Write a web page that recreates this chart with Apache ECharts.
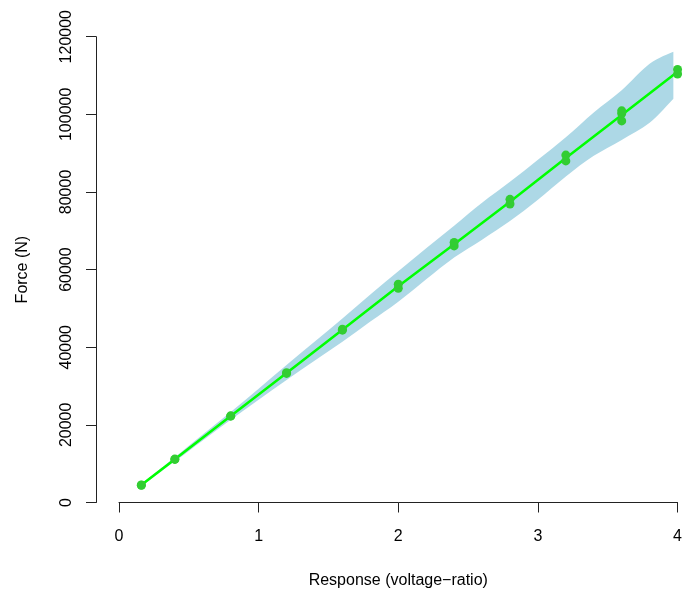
<!DOCTYPE html>
<html>
<head>
<meta charset="utf-8">
<script src="https://cdn.jsdelivr.net/npm/echarts@6/dist/echarts.min.js"></script>
<style>
  html, body { margin: 0; padding: 0; background: #fff; }
  #chart { width: 685px; height: 594px; }
</style>
</head>
<body>
<div id="chart"></div>
<script>
// Load-cell calibration: measured force against instrument response
const responseLevels = [0.16, 0.4, 0.8, 1.2, 1.6, 2.0, 2.4, 2.8, 3.2, 3.6, 4.0];

// Replicate force readings (N) at each response level
const obsResponse = [0.16, 0.16, 0.4, 0.4, 0.8, 0.8, 1.2, 1.2, 1.6, 1.6, 2.0, 2.0,
                     2.4, 2.4, 2.8, 2.8, 3.2, 3.2, 3.6, 3.6, 3.6, 4.0, 4.0];
const obsForce = [4450, 4520, 11100, 11180, 22250, 22330, 33250, 33450, 44400, 44650, 55200, 56250,
                  66100, 67000, 76900, 78100, 88000, 89500, 98300, 100200, 100900, 110400, 111550];

// Fitted calibration curve at each response level
const fitForce = [4480, 11140, 22290, 33350, 44520, 55720, 66550, 77500, 88750, 99800, 110950];

// Uncertainty band around the fit
const bandResponse = [0.16, 0.4, 0.6, 0.8, 1.0, 1.2, 1.4, 1.6, 1.8, 2.0, 2.2, 2.4, 2.6, 2.8, 3.0,
                      3.2, 3.4, 3.6, 3.8, 3.97];
const bandUpper = [4800, 11650, 17500, 23300, 29300, 35400, 41400, 47400, 53600, 59600, 65500,
                   71300, 77200, 82600, 88300, 94100, 100500, 106200, 113000, 116100];
const bandLower = [4150, 10600, 16000, 21300, 26500, 31550, 36500, 41400, 46600, 51700, 57500,
                   63100, 67700, 72500, 78000, 84000, 89300, 93400, 97800, 104000];

// Axis ticks
const xTicks = [0, 1, 2, 3, 4];
const yTicks = [0, 20000, 40000, 60000, 80000, 100000, 120000];

const FONT = 'Liberation Sans, Arial, Helvetica, sans-serif';
const AXIS_COLOR = '#222';

const chart = echarts.init(document.getElementById('chart'), null, { renderer: 'canvas' });

// Catmull-Rom spline through screen points, written as SVG path commands
function splinePath(pts, moveFirst) {
  let d = (moveFirst ? 'M' : 'L') + pts[0][0] + ' ' + pts[0][1];
  for (let i = 0; i < pts.length - 1; i++) {
    const p0 = pts[Math.max(i - 1, 0)];
    const p1 = pts[i];
    const p2 = pts[i + 1];
    const p3 = pts[Math.min(i + 2, pts.length - 1)];
    const c1x = p1[0] + (p2[0] - p0[0]) / 6, c1y = p1[1] + (p2[1] - p0[1]) / 6;
    const c2x = p2[0] - (p3[0] - p1[0]) / 6, c2y = p2[1] - (p3[1] - p1[1]) / 6;
    d += ' C' + c1x + ' ' + c1y + ' ' + c2x + ' ' + c2y + ' ' + p2[0] + ' ' + p2[1];
  }
  return d;
}

function renderBand(params, api) {
  if (params.dataIndex !== 0) return null;
  const upper = bandResponse.map((x, i) => api.coord([x, bandUpper[i]]));
  const lower = bandResponse.map((x, i) => api.coord([x, bandLower[i]])).reverse();
  const d = splinePath(upper, true) + ' ' + splinePath(lower, false) + ' Z';
  return {
    type: 'path',
    shape: { pathData: d },
    style: { fill: '#ADD8E6', stroke: null }
  };
}

chart.setOption({
  animation: false,
  backgroundColor: '#fff',
  textStyle: { fontFamily: FONT },
  grid: { left: 119, right: 3, top: 36.7, bottom: 91.5, containLabel: false },
  xAxis: {
    type: 'value',
    min: xTicks[0],
    max: xTicks[xTicks.length - 1],
    interval: 1,
    name: 'Response (voltage\u2212ratio)',
    nameLocation: 'middle',
    nameGap: 70,
    nameTextStyle: { fontSize: 16, color: '#000', fontFamily: FONT },
    axisLine: { show: true, onZero: false, lineStyle: { color: AXIS_COLOR, width: 1 } },
    axisTick: { show: true, length: 10, lineStyle: { color: AXIS_COLOR, width: 1 } },
    axisLabel: { fontSize: 16, color: '#000', margin: 26, fontFamily: FONT,
                 showMinLabel: true, showMaxLabel: true },
    splitLine: { show: false }
  },
  yAxis: {
    type: 'value',
    min: yTicks[0],
    max: yTicks[yTicks.length - 1],
    interval: 20000,
    offset: 23,
    name: 'Force (N)',
    nameLocation: 'middle',
    nameGap: 65,
    nameTextStyle: { fontSize: 16, color: '#000', fontFamily: FONT },
    axisLine: { show: true, onZero: false, lineStyle: { color: AXIS_COLOR, width: 1 } },
    axisTick: { show: true, length: 10, lineStyle: { color: AXIS_COLOR, width: 1 } },
    axisLabel: { fontSize: 16, color: '#000', margin: 21, rotate: 90, fontFamily: FONT,
                 formatter: v => String(v) },
    splitLine: { show: false }
  },
  series: [
    {
      name: 'band',
      type: 'custom',
      data: bandResponse.map((x, i) => [x, bandLower[i], bandUpper[i]]),
      encode: { x: 0, y: [1, 2] },
      renderItem: renderBand,
      silent: true,
      z: 1
    },
    {
      name: 'fit',
      type: 'line',
      data: responseLevels.map((x, i) => [x, fitForce[i]]),
      symbol: 'none',
      lineStyle: { color: '#00FF00', width: 2.5 },
      z: 2
    },
    {
      name: 'observed',
      type: 'scatter',
      data: obsResponse.map((x, i) => [x, obsForce[i]]),
      symbol: 'circle',
      symbolSize: 9,
      itemStyle: { color: '#32CD32', opacity: 1 },
      z: 3
    }
  ]
});
</script>
</body>
</html>
